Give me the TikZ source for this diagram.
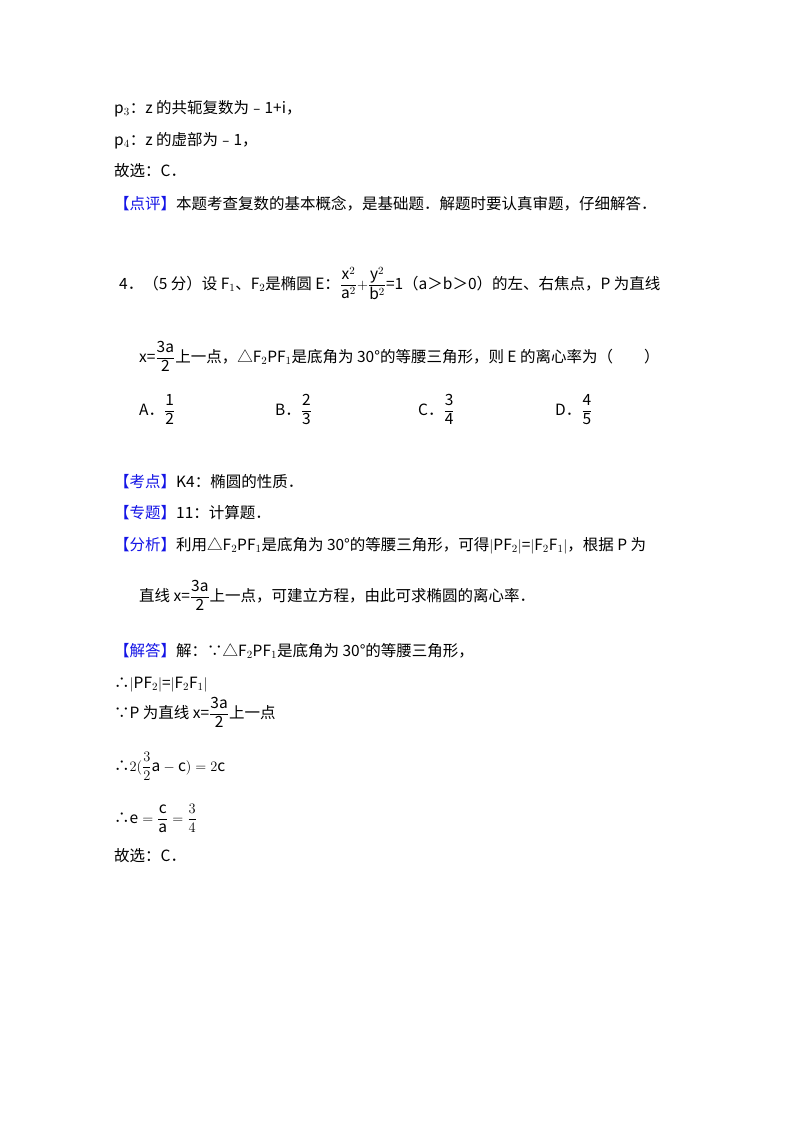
\documentclass[tikz,border=0pt]{standalone}
\usepackage{fontspec}
\usepackage{amsmath}
\setmainfont{Noto Sans CJK SC}
\definecolor{hl}{RGB}{20,20,230}
\newcommand{\hb}[1]{\textcolor{hl}{【#1】}}
\newcommand{\fr}[2]{$\dfrac{\mathrm{#1}}{\mathrm{#2}}$}
\begin{document}
\begin{tikzpicture}[x=1pt,y=1pt,
  ln/.style={anchor=base west,inner sep=0pt,font=\fontsize{15.5pt}{18pt}\selectfont}]
\useasboundingbox[fill=white] (0,0) rectangle (800,-1133);
\node[ln] (l1) at (114,-113) {p$_3$：z 的共轭复数为﹣1+i，};
\node[ln] (l2) at (114,-145) {p$_4$：z 的虚部为﹣1，};
\node[ln] (l3) at (114,-176) {故选：C．};
\node[ln] (l4) at (114,-209) {\hb{点评}本题考查复数的基本概念，是基础题．解题时要认真审题，仔细解答．};
\node[ln] (l5) at (119,-289) {4．（5 分）设 F$_1$、F$_2$是椭圆 E：$\dfrac{\mathrm{x}^2}{\mathrm{a}^2}{+}\dfrac{\mathrm{y}^2}{\mathrm{b}^2}$=1（a＞b＞0）的左、右焦点，P 为直线};
\node[ln] (l6) at (139,-362) {x=\fr{3a}{2}上一点，△F$_2$PF$_1$是底角为 30°的等腰三角形，则 E 的离心率为（\quad\quad）};
\node[ln] (oA) at (139,-415) {A．\fr{1}{2}};
\node[ln] (oB) at (275,-415) {B．\fr{2}{3}};
\node[ln] (oC) at (418,-415) {C．\fr{3}{4}};
\node[ln] (oD) at (555,-415) {D．\fr{4}{5}};
\node[ln] (l7) at (114,-487) {\hb{考点}K4：椭圆的性质．};
\node[ln] (l8) at (114,-518) {\hb{专题}11：计算题．};
\node[ln] (l9) at (114,-550) {\hb{分析}利用△F$_2$PF$_1$是底角为 30°的等腰三角形，可得$|$PF$_2|$=$|$F$_2$F$_1|$，根据 P 为};
\node[ln] (l10) at (139,-601) {直线 x=\fr{3a}{2}上一点，可建立方程，由此可求椭圆的离心率．};
\node[ln] (l11) at (114,-656) {\hb{解答}解：∵△F$_2$PF$_1$是底角为 30°的等腰三角形，};
\node[ln] (l12) at (114,-688) {∴$|$PF$_2|$=$|$F$_2$F$_1|$};
\node[ln] (l13) at (114,-718) {∵P 为直线 x=\fr{3a}{2}上一点};
\node[ln] (l14) at (114,-771) {∴$2(\dfrac{3}{2}\mathrm{a}-\mathrm{c})=2\mathrm{c}$};
\node[ln] (l15) at (114,-823) {∴$\mathrm{e}=\dfrac{\mathrm{c}}{\mathrm{a}}=\dfrac{3}{4}$};
\node[ln] (l16) at (114,-861) {故选：C．};
\end{tikzpicture}
\end{document}
